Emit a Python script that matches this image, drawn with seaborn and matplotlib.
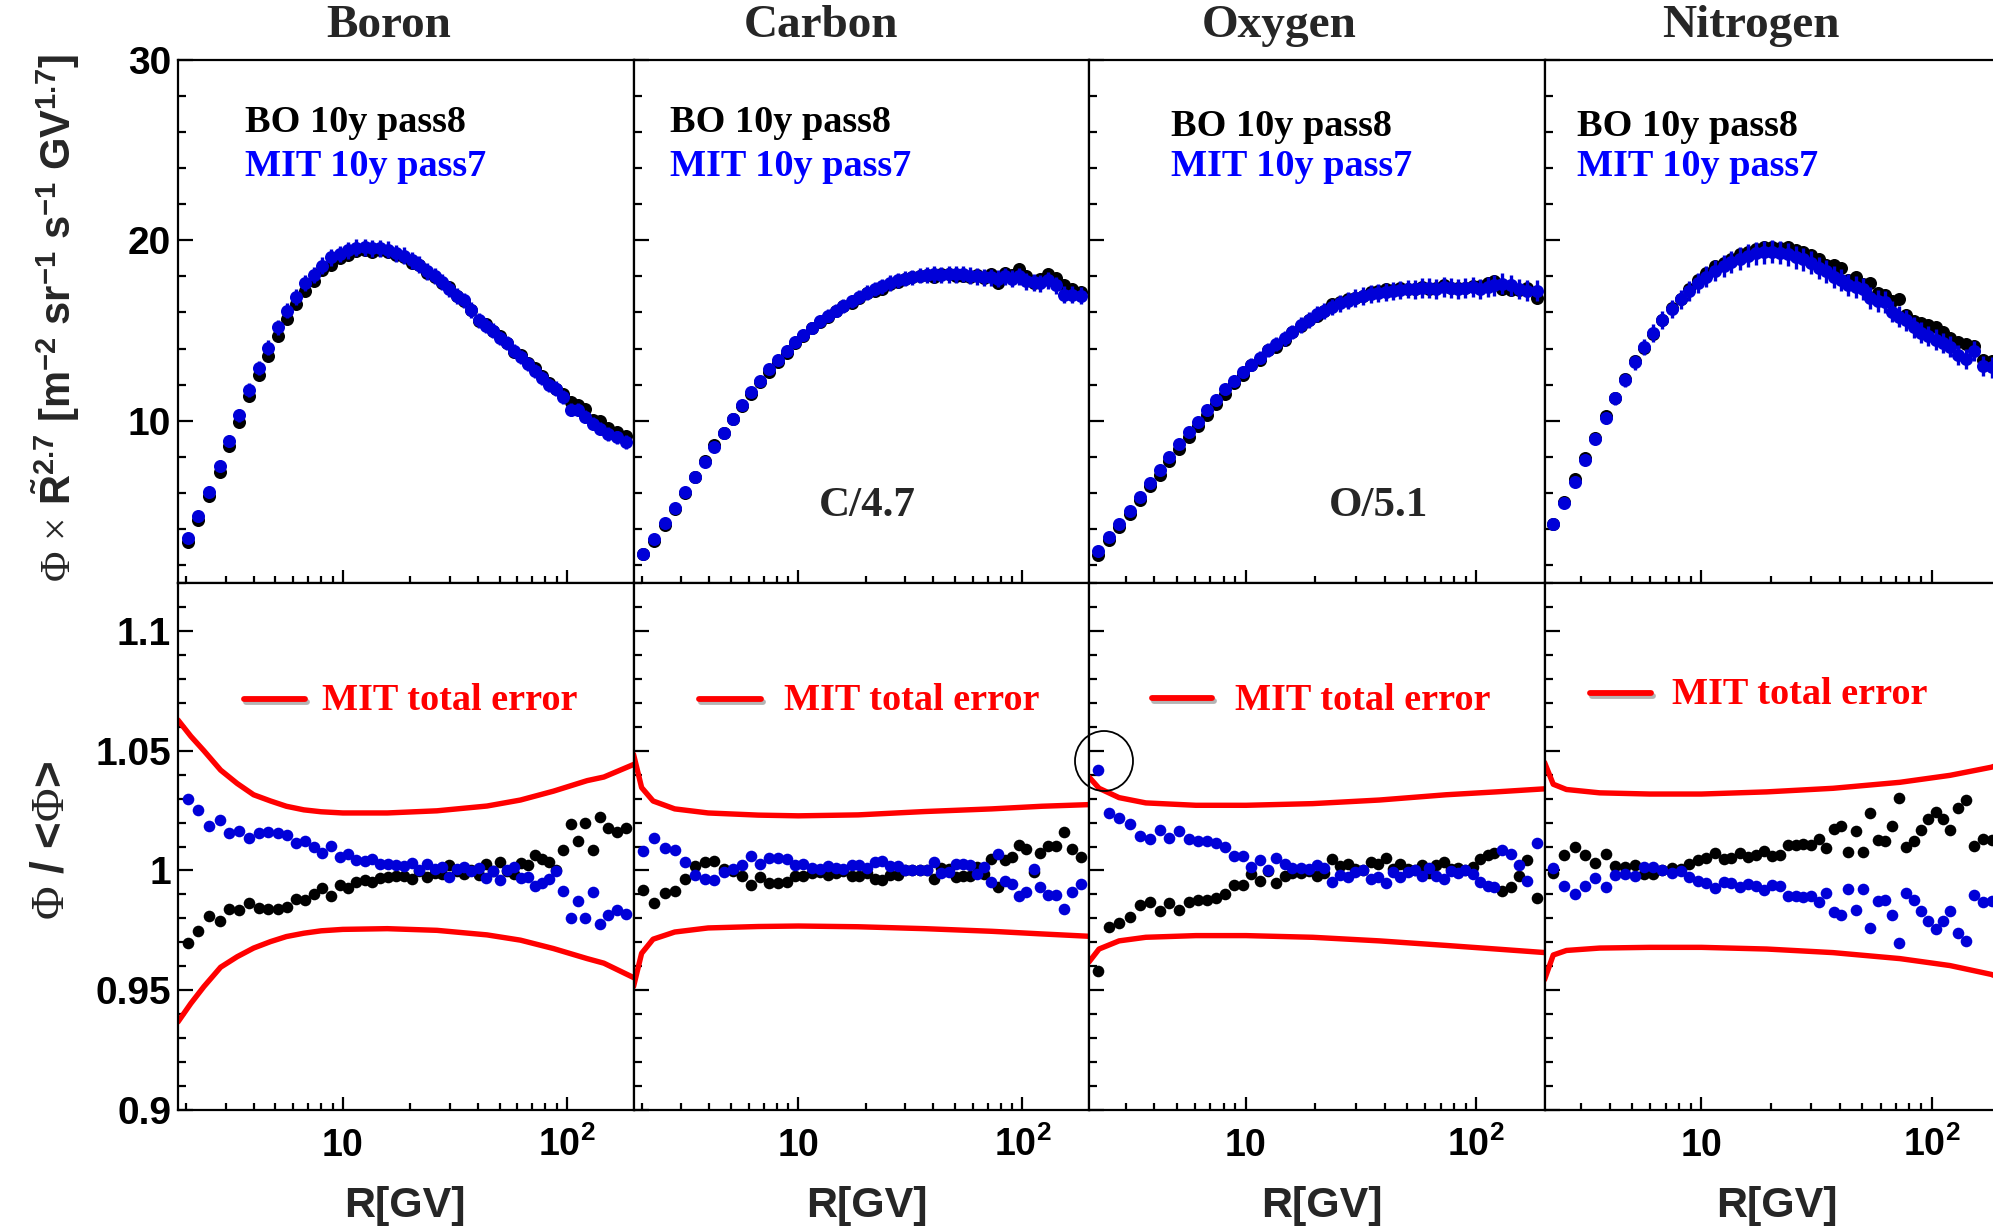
import numpy as np
import matplotlib
matplotlib.use('Agg')
import matplotlib.pyplot as plt
import seaborn as sns
import matplotlib.patheffects as pe
from matplotlib.patches import Ellipse
from matplotlib.lines import Line2D
from matplotlib.ticker import FixedLocator, NullFormatter, FixedFormatter

# ---------------- data ----------------
rigidity = [2.03, 2.27, 2.53, 2.82, 3.12, 3.46, 3.83, 4.22, 4.65, 5.12, 5.63, 6.18, 6.77, 7.42,
            8.11, 8.86, 9.67, 10.5, 11.5, 12.5, 13.5, 14.7, 15.9, 17.3, 18.7, 20.3, 21.9, 23.7,
            25.7, 27.7, 29.9, 32.3, 34.8, 37.5, 40.4, 43.5, 46.8, 50.3, 54.1, 58.2, 62.5, 67.2,
            72.3, 77.7, 83.4, 89.7, 96.4, 104, 112, 120, 130, 141, 153, 167, 183]

elements = ["Boron", "Carbon", "Oxygen", "Nitrogen"]
scale_labels = ["", "C/4.7", "O/5.1", ""]

# MIT 10y pass7 flux x R^2.7 (blue)
flux_mit_B = [3.49, 4.71, 6.07, 7.48, 8.88, 10.29, 11.69, 12.91, 14.05, 15.17, 16.10, 16.86, 17.64, 18.08,
              18.60, 19.05, 19.24, 19.44, 19.59, 19.63, 19.57, 19.57, 19.48, 19.28, 19.15, 18.90, 18.66, 18.28,
              18.02, 17.69, 17.31, 16.92, 16.67, 16.14, 15.56, 15.27, 14.98, 14.59, 14.30, 13.86, 13.53, 13.14,
              12.75, 12.36, 11.98, 11.78, 11.30, 10.62, 10.62, 10.23, 9.84, 9.55, 9.26, 9.07, 8.82]
flux_mit_C = [2.63, 3.43, 4.32, 5.17, 6.02, 6.86, 7.71, 8.56, 9.32, 10.11, 10.85, 11.59, 12.22, 12.86,
              13.39, 13.88, 14.39, 14.77, 15.15, 15.51, 15.83, 16.10, 16.36, 16.61, 16.86, 17.10, 17.31, 17.46,
              17.63, 17.78, 17.88, 17.94, 18.05, 18.09, 18.11, 18.09, 18.11, 18.11, 18.14, 18.05, 18.01, 17.94,
              17.94, 17.88, 18.01, 17.88, 18.01, 17.73, 17.67, 17.63, 17.78, 17.52, 16.99, 16.99, 16.93]
flux_mit_O = [2.80, 3.54, 4.28, 5.02, 5.76, 6.55, 7.25, 7.99, 8.73, 9.36, 9.94, 10.57, 11.17, 11.74,
              12.22, 12.69, 13.11, 13.50, 13.92, 14.24, 14.56, 14.92, 15.3, 15.6, 15.9, 16.1, 16.3, 16.5,
              16.65, 16.8, 16.9, 17.0, 17.1, 17.15, 17.2, 17.25, 17.3, 17.3, 17.35, 17.35, 17.3, 17.4,
              17.35, 17.3, 17.35, 17.4, 17.3, 17.4, 17.5, 17.6, 17.5, 17.3, 17.2, 17.2]
flux_mit_N = [4.26, 5.45, 6.61, 7.81, 9.01, 10.14, 11.24, 12.27, 13.24, 14.09, 14.86, 15.60, 16.20, 16.72,
              17.21, 17.64, 17.98, 18.31, 18.57, 18.80, 18.99, 19.15, 19.28, 19.34, 19.38, 19.32, 19.24, 19.05,
              18.95, 18.76, 18.47, 18.28, 17.98, 17.79, 17.54, 17.40, 17.31, 16.82, 16.63, 16.57, 16.05, 15.76,
              15.56, 15.17, 14.88, 14.69, 14.50, 14.30, 14.11, 13.62, 13.43, 13.86, 13.04, 12.95]

# ratios Phi/<Phi>
ratio_mit_B = [1.0297, 1.0251, 1.0184, 1.0209, 1.0157, 1.0165, 1.0135, 1.0156, 1.0159, 1.0156, 1.0149, 1.0115,
               1.0121, 1.0099, 1.0071, 1.0101, 1.0056, 1.0069, 1.0044, 1.0041, 1.0049, 1.0029, 1.0025, 1.0022,
               1.0018, 1.0032, 1.0, 1.0028, 1.0007, 1.0015, 0.9974, 1.0004, 1.0013, 0.9996, 1.001, 0.9968,
               0.9997, 0.996, 1.0, 1.0015, 0.9968, 0.9974, 0.9937, 0.9949, 0.9963, 0.9996, 0.9915, 0.9801,
               0.9872, 0.9801, 0.9912, 0.9775, 0.9813, 0.9835, 0.9819]
ratio_bo_B = [0.9699, 0.9746, 0.9809, 0.979, 0.9838, 0.9834, 0.9863, 0.9843, 0.9838, 0.9841, 0.9849, 0.9882,
              0.9875, 0.9901, 0.9926, 0.9893, 0.9938, 0.9926, 0.9953, 0.996, 0.9951, 0.9968, 0.9974, 0.9975,
              0.9978, 0.9963, 0.9996, 0.9971, 0.999, 0.9984, 1.0022, 0.9996, 0.9984, 1.0, 0.9981, 1.0029,
              0.9999, 1.0037, 0.9999, 0.9985, 1.0032, 1.0022, 1.0063, 1.0049, 1.0034, 1.0, 1.0084, 1.0194,
              1.0125, 1.0199, 1.0087, 1.0224, 1.0179, 1.016, 1.0176]
ratio_mit_C = [1.0081, 1.0135, 1.0093, 1.0085, 1.0037, 0.9981, 0.9966, 0.996, 0.9993, 1.0004, 1.0022, 1.0059,
               1.0029, 1.0054, 1.0054, 1.0049, 1.0022, 1.0025, 1.001, 1.0007, 1.0018, 1.001, 1.0004, 1.0022,
               1.0022, 1.001, 1.0037, 1.0041, 1.0018, 1.0019, 1.0, 1.0, 1.0, 1.0, 1.0037, 0.9988,
               0.9993, 1.0029, 1.0025, 1.0022, 0.9985, 1.0015, 0.9953, 1.0069, 0.9956, 0.9944, 0.9893, 0.9912,
               1.0007, 0.9929, 0.9897, 0.9897, 0.9841, 0.9912, 0.9944]
ratio_bo_C = [0.9919, 0.9865, 0.9907, 0.9915, 0.9963, 1.0019, 1.0034, 1.004, 1.0007, 0.9996, 0.9978, 0.9941,
              0.9971, 0.9946, 0.9946, 0.9951, 0.9978, 0.9975, 0.999, 0.9993, 0.9982, 0.999, 0.9996, 0.9978,
              0.9978, 0.999, 0.9963, 0.9959, 0.9982, 0.9981, 1.0, 1.0, 1.0, 1.0, 0.9963, 1.0012,
              1.0007, 0.9971, 0.9975, 0.9978, 1.0015, 0.9985, 1.0047, 0.9931, 1.0044, 1.0056, 1.0107, 1.0088,
              0.9993, 1.0071, 1.0103, 1.0103, 1.0159, 1.0088, 1.0056]
ratio_mit_O = [1.0419, 1.0238, 1.0218, 1.0196, 1.0144, 1.0132, 1.0169, 1.0135, 1.0166, 1.0132, 1.0125, 1.0122,
               1.0113, 1.01, 1.0062, 1.0059, 1.0015, 1.0044, 1.0003, 1.0051, 1.0025, 1.001, 1.001, 1.0004,
               1.0022, 1.001, 0.9953, 0.9981, 0.9974, 0.9993, 1.0, 0.9966, 0.9971, 0.9949, 0.9993, 0.9974,
               0.9993, 1.0, 0.9978, 1.001, 0.9978, 0.9963, 0.9996, 0.999, 1.0, 0.9985, 0.9951, 0.9934,
               0.9929, 1.0084, 1.0069, 1.0022, 0.9956, 1.0115]
ratio_bo_O = [0.958, 0.9762, 0.9782, 0.9804, 0.9856, 0.9868, 0.9831, 0.9865, 0.9834, 0.9868, 0.9875, 0.9878,
              0.9887, 0.99, 0.9938, 0.9941, 0.9985, 0.9956, 0.9997, 0.9949, 0.9975, 0.999, 0.999, 0.9996,
              0.9978, 0.999, 1.0047, 1.0019, 1.0026, 1.0007, 1.0, 1.0034, 1.0029, 1.0051, 1.0007, 1.0026,
              1.0007, 1.0, 1.0022, 0.999, 1.0022, 1.0037, 1.0004, 1.001, 1.0, 1.0015, 1.0049, 1.0066,
              1.0071, 0.9916, 0.9931, 0.9978, 1.0044, 0.9885]
ratio_mit_N = [1.001, 0.9937, 0.99, 0.9937, 0.9968, 0.9931, 0.9981, 0.9985, 0.9978, 1.0015, 1.0015, 1.0,
               0.999, 0.9996, 0.9974, 0.9956, 0.9949, 0.9926, 0.9953, 0.9949, 0.9929, 0.9944, 0.9934, 0.9919,
               0.9938, 0.9934, 0.9894, 0.9894, 0.989, 0.9893, 0.9868, 0.9907, 0.9826, 0.9816, 0.9922, 0.9835,
               0.9922, 0.976, 0.9871, 0.9878, 0.9816, 0.9699, 0.9904, 0.9875, 0.9831, 0.9787, 0.9757, 0.9787,
               0.9831, 0.9738, 0.9706, 0.9897, 0.9868, 0.9872]
ratio_bo_N = [0.999, 1.0063, 1.01, 1.0063, 1.0032, 1.0069, 1.0019, 1.0015, 1.0022, 0.9985, 0.9985, 1.0,
              1.001, 1.0004, 1.0026, 1.0044, 1.0051, 1.0074, 1.0047, 1.0051, 1.0071, 1.0056, 1.0066, 1.0081,
              1.0062, 1.0066, 1.0106, 1.0106, 1.011, 1.0107, 1.0132, 1.0093, 1.0174, 1.0184, 1.0078, 1.0165,
              1.0078, 1.024, 1.0129, 1.0122, 1.0184, 1.0301, 1.0096, 1.0125, 1.0169, 1.0213, 1.0243, 1.0213,
              1.0169, 1.0262, 1.0294, 1.0103, 1.0132, 1.0128]

# MIT total error band (upper / lower edges)
band_R_B = [1.84, 2.10, 2.40, 2.85, 3.38, 4.0, 4.76, 5.6, 6.70, 8.0, 10, 15.8, 26.3, 44, 62, 87, 123, 146, 200]
band_up_B = [1.0628, 1.0560, 1.0500, 1.0419, 1.0363, 1.0316, 1.0290, 1.0268, 1.0253, 1.0245, 1.024, 1.024,
             1.0249, 1.0269, 1.0294, 1.0331, 1.0375, 1.039, 1.0444]
band_lo_B = [0.9368, 0.9445, 0.9515, 0.9596, 0.964, 0.9676, 0.9703, 0.9724, 0.9738, 0.9748, 0.9754, 0.9757,
             0.975, 0.9731, 0.9709, 0.9674, 0.9632, 0.9613, 0.9551]
band_R_C = [1.84, 2.0, 2.25, 2.81, 3.96, 6.63, 10, 18.5, 36.7, 72.9, 122, 200]
band_up_C = [1.0485, 1.0346, 1.029, 1.0257, 1.024, 1.0231, 1.0228, 1.0232, 1.0246, 1.0257, 1.0268, 1.0275]
band_lo_C = [0.9515, 0.9654, 0.9713, 0.9743, 0.976, 0.9766, 0.9768, 0.9765, 0.9757, 0.9746, 0.9735, 0.9725]
band_R_O = [2.08, 2.30, 2.81, 3.67, 6.06, 10, 19.5, 38, 74, 122, 200]
band_up_O = [1.039, 1.0343, 1.0304, 1.0282, 1.0272, 1.0272, 1.0279, 1.0294, 1.0316, 1.0328, 1.0341]
band_lo_O = [0.9618, 0.9672, 0.9706, 0.9721, 0.9728, 0.9728, 0.9721, 0.9706, 0.9687, 0.9672, 0.9657]
band_R_N = [2.08, 2.27, 2.59, 3.61, 5.96, 10, 19.2, 37.3, 72.8, 120, 181.6, 200]
band_up_N = [1.0451, 1.036, 1.0338, 1.0324, 1.0319, 1.0319, 1.0328, 1.0343, 1.0368, 1.0397, 1.0431, 1.0445]
band_lo_N = [0.9544, 0.9647, 0.9666, 0.9676, 0.9679, 0.9679, 0.9672, 0.9657, 0.9632, 0.9603, 0.9566, 0.955]

top_yticks = [10, 20, 30]
top_yticklabels = ["10", "20", "30"]
bot_yticks = [0.9, 0.95, 1.0, 1.05, 1.1]
bot_yticklabels = ["0.9", "0.95", "1", "1.05", "1.1"]
xtick_major = [10, 100]
xtick_labels = ["10", r"$\mathbf{10^{2}}$"]

# ---------------- style ----------------
sns.set_theme(style="ticks", rc={"axes.edgecolor": "black", "xtick.color": "black",
                                 "ytick.color": "black", "axes.linewidth": 1.6})
plt.rcParams['font.family'] = ['Liberation Sans', 'DejaVu Sans']
plt.rcParams['mathtext.fontset'] = 'custom'
plt.rcParams['mathtext.rm'] = 'Liberation Serif'
plt.rcParams['mathtext.it'] = 'Liberation Serif:italic'
plt.rcParams['mathtext.bf'] = 'Liberation Sans:bold'
plt.rcParams['mathtext.sf'] = 'Liberation Sans:bold'

W, H = 1993, 1232
fig = plt.figure(figsize=(W / 100, H / 100), dpi=100)
fig.patch.set_facecolor('white')

BLUE_PT = '#0000D8'
BLUE_TX = '#0000FF'
RED = '#FF0000'
SERIF = ['Liberation Serif', 'DejaVu Serif']

def fx(p):
    return p / W

def fy(p):
    return 1 - p / H

panels = [
    dict(R=rigidity, fm=flux_mit_B, rm=ratio_mit_B, rb=ratio_bo_B, bR=band_R_B, bu=band_up_B, bl=band_lo_B,
         xlim=(1.84, 198), x0=178, title_x=389, leg_x=245, leg_y=(123, 166), red_x=(244, 305, 322), red_y=699,
         xl_x=405),
    dict(R=rigidity, fm=flux_mit_C, rm=ratio_mit_C, rb=ratio_bo_C, bR=band_R_C, bu=band_up_C, bl=band_lo_C,
         xlim=(1.84, 198), x0=633.5, title_x=821, leg_x=670, leg_y=(123, 166), red_x=(699, 761, 784), red_y=699,
         xl_x=867),
    dict(R=rigidity[1:], fm=flux_mit_O, rm=ratio_mit_O, rb=ratio_bo_O, bR=band_R_O, bu=band_up_O, bl=band_lo_O,
         xlim=(2.08, 198), x0=1089, title_x=1279, leg_x=1171, leg_y=(126, 167), red_x=(1152, 1212, 1235),
         red_y=698, xl_x=1322),
    dict(R=rigidity[1:], fm=flux_mit_N, rm=ratio_mit_N, rb=ratio_bo_N, bR=band_R_N, bu=band_up_N, bl=band_lo_N,
         xlim=(2.08, 198), x0=1544.5, title_x=1751, leg_x=1577, leg_y=(126, 167), red_x=(1590, 1651, 1672),
         red_y=693, xl_x=1777),
]

minor_x = [2, 3, 4, 5, 6, 7, 8, 9, 20, 30, 40, 50, 60, 70, 80, 90, 200]
PW = 455.5

def style_axis(ax, bottom_row, xlim):
    ax.set_xscale('log')
    ax.set_xlim(*xlim)
    ax.xaxis.set_major_locator(FixedLocator(xtick_major))
    ax.xaxis.set_minor_locator(FixedLocator(minor_x))
    ax.xaxis.set_minor_formatter(NullFormatter())
    ax.tick_params(which='both', direction='in', top=False, right=False, width=1.6)
    ax.tick_params(axis='x', which='major', length=9.5)
    ax.tick_params(axis='x', which='minor', length=5)
    ax.tick_params(axis='y', which='major', length=10.5)
    ax.tick_params(axis='y', which='minor', length=5.5)
    for s in ax.spines.values():
        s.set_linewidth(1.6)
        s.set_color('black')
        s.set_visible(True)
    if bottom_row:
        ax.xaxis.set_major_formatter(FixedFormatter(xtick_labels))
        ax.tick_params(axis='x', which='major', pad=33, labelsize=27)
        for t in ax.get_xticklabels():
            t.set_fontweight('bold')
            t.set_va('baseline')
    else:
        ax.xaxis.set_major_formatter(NullFormatter())
    ax.set_xlabel('')
    ax.set_ylabel('')

for i, p in enumerate(panels):
    R = np.array(p['R'])
    fm = np.array(p['fm'])
    rm = np.array(p['rm'])
    rb = np.array(p['rb'])
    fb = fm * rb / rm
    err = fm * (np.interp(np.log10(R), np.log10(p['bR']), p['bu']) - 1.0)

    ax_t = fig.add_axes([fx(p['x0']), fy(583), PW / W, 523 / H])
    ax_b = fig.add_axes([fx(p['x0']), fy(1110), PW / W, 527 / H])

    # ---- top panel: flux ----
    sns.scatterplot(x=R, y=fb, color='black', s=88, linewidth=0, legend=False, ax=ax_t, zorder=3)
    ax_t.errorbar(R, fm, yerr=err, fmt='none', ecolor=BLUE_PT, elinewidth=2.4, capsize=0, zorder=4)
    sns.scatterplot(x=R, y=fm, color=BLUE_PT, s=88, linewidth=0, legend=False, ax=ax_t, zorder=5)
    style_axis(ax_t, False, p['xlim'])
    ax_t.set_ylim(1, 30)
    ax_t.yaxis.set_major_locator(FixedLocator(top_yticks))
    ax_t.yaxis.set_minor_locator(FixedLocator([v for v in range(2, 30, 2) if v not in top_yticks]))

    # ---- bottom panel: ratio ----
    sns.lineplot(x=p['bR'], y=p['bu'], color=RED, linewidth=3.9, sort=False, estimator=None, ax=ax_b, zorder=2)
    sns.lineplot(x=p['bR'], y=p['bl'], color=RED, linewidth=3.9, sort=False, estimator=None, ax=ax_b, zorder=2)
    sns.scatterplot(x=R, y=rb, color='black', s=70, linewidth=0, legend=False, ax=ax_b, zorder=3)
    sns.scatterplot(x=R, y=rm, color=BLUE_PT, s=70, linewidth=0, legend=False, ax=ax_b, zorder=4)
    style_axis(ax_b, True, p['xlim'])
    ax_b.set_ylim(0.9, 1.12)
    ax_b.yaxis.set_major_locator(FixedLocator(bot_yticks))
    ax_b.yaxis.set_minor_locator(FixedLocator([round(0.9 + 0.01 * k, 3) for k in range(0, 23)
                                               if k % 5 != 0]))

    for ax, labels in ((ax_t, top_yticklabels), (ax_b, bot_yticklabels)):
        if i == 0:
            ax.yaxis.set_major_formatter(FixedFormatter(labels))
            ax.tick_params(axis='y', which='major', labelsize=28, pad=5)
            for t in ax.get_yticklabels():
                t.set_fontweight('bold')
        else:
            ax.yaxis.set_major_formatter(NullFormatter())

    # titles and texts
    fig.text(fx(p['title_x']), fy(26), elements[i], fontsize=34, fontweight='bold', family=SERIF,
             ha='center', va='center')
    fig.text(fx(p['leg_x']), fy(p['leg_y'][0]), 'BO 10y pass8', fontsize=27.5, fontweight='bold',
             family=SERIF, color='black', ha='left', va='center')
    fig.text(fx(p['leg_x']), fy(p['leg_y'][1]), 'MIT 10y pass7', fontsize=27.5, fontweight='bold',
             family=SERIF, color=BLUE_TX, ha='left', va='center')
    x1, x2, xt = p['red_x']
    fig.add_artist(Line2D([fx(x1), fx(x2)], [fy(p['red_y']), fy(p['red_y'])], color=RED, linewidth=4.2,
                          transform=fig.transFigure,
                          path_effects=[pe.SimpleLineShadow(offset=(1.5, -2.5), shadow_color='0.35', alpha=0.45),
                                        pe.Normal()]))
    fig.text(fx(xt), fy(p['red_y'] + 2), 'MIT total error', fontsize=27.5, fontweight='bold', family=SERIF,
             color=RED, ha='left', va='center')
    fig.text(fx(p['xl_x']), fy(1206), 'R[GV]', fontsize=31, fontweight='bold', ha='center', va='center')
    if scale_labels[i]:
        fig.text(fx(p['xl_x'] if i == 1 else 1379), fy(506), scale_labels[i], fontsize=31, fontweight='bold',
                 family=SERIF, ha='center', va='center')

# circle around the first MIT oxygen point
fig.add_artist(Ellipse((fx(1104), fy(761)), 58 / W, 60 / H, transform=fig.transFigure,
                       fill=False, edgecolor='black', linewidth=1.3))

# y-axis labels
fig.text(fx(56), fy(318),
         r'$\mathrm{\Phi}$ $\mathrm{\times}$ $\mathbf{\tilde{R}^{2.7}}$ [m$^{\mathbf{-2}}$ sr$^{\mathbf{-1}}$ '
         r's$^{\mathbf{-1}}$ GV$^{\mathbf{1.7}}$]',
         rotation=90, fontsize=30, fontweight='bold', ha='center', va='center')
fig.text(fx(51), fy(841), r'$\mathrm{\Phi}$ / <$\mathrm{\Phi}$>', rotation=90, fontsize=33,
         fontweight='bold', ha='center', va='center')

fig.savefig('out.png', dpi=100, facecolor='white')
